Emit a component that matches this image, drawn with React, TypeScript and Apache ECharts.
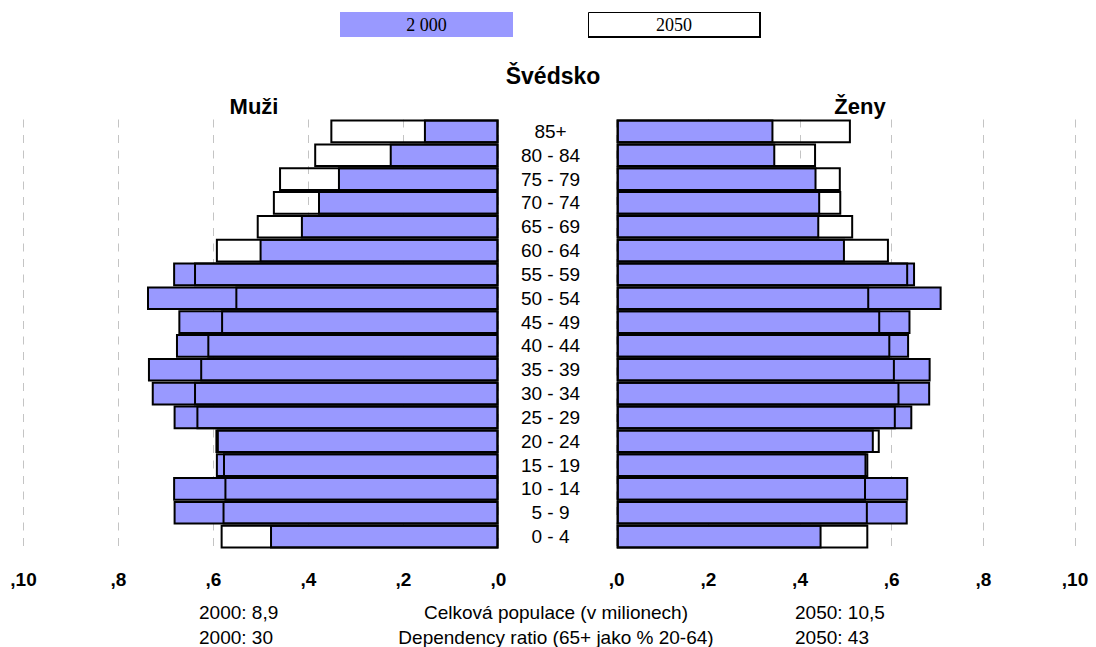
import React, { useEffect, useRef } from "react";
import * as echarts from "echarts";

// Age groups, youngest first (drawn bottom to top)
const ageGroups = [
  "0 - 4", "5 - 9", "10 - 14", "15 - 19", "20 - 24", "25 - 29", "30 - 34", "35 - 39", "40 - 44",
  "45 - 49", "50 - 54", "55 - 59", "60 - 64", "65 - 69", "70 - 74", "75 - 79", "80 - 84", "85+",
];

const men2000 = [4.81, 6.84, 6.85, 5.95, 5.96, 6.84, 7.30, 7.38, 6.79, 6.74, 7.40, 6.85, 5.03, 4.16, 3.80, 3.38, 2.29, 1.57];
const men2050 = [5.85, 5.81, 5.77, 5.80, 5.93, 6.36, 6.41, 6.28, 6.13, 5.84, 5.54, 6.41, 5.95, 5.09, 4.75, 4.62, 3.88, 3.54];
const women2000 = [4.47, 6.35, 6.36, 5.45, 5.61, 6.45, 6.84, 6.85, 6.38, 6.41, 7.09, 6.51, 4.98, 4.42, 4.44, 4.36, 3.46, 3.42];
const women2050 = [5.49, 5.48, 5.44, 5.49, 5.74, 6.09, 6.17, 6.07, 5.97, 5.75, 5.51, 6.36, 5.94, 5.16, 4.90, 4.89, 4.35, 5.11];

const seriesNames = ["2 000", "2050"];
const axisMax = 10;
const axisStep = 2;

const title = "Švédsko";
const leftTitle = "Muži";
const rightTitle = "Ženy";

const statLabels = ["Celková populace (v milionech)", "Dependency ratio (65+ jako % 20-64)"];
const stats2000 = ["2000: 8,9", "2000: 30"];
const stats2050 = ["2050: 10,5", "2050: 43"];

const SANS = "'Liberation Sans', Arial, sans-serif";
const SERIF = "'Liberation Serif', 'Times New Roman', serif";
const BLUE = "#9999ff";

export default function App() {
  const ref = useRef<HTMLDivElement>(null);

  useEffect(() => {
    if (!ref.current) return;
    const chart = echarts.init(ref.current, null, { renderer: "svg" });

    const leftGrid = { left: 23.5, top: 119.5, width: 475, height: 429 };
    const rightGrid = { left: 616.7, top: 119.5, width: 458.3, height: 429 };

    const valueAxis = (gridIndex: number, inverse: boolean) => ({
      type: "value",
      gridIndex,
      min: 0,
      max: axisMax,
      interval: axisStep,
      inverse,
      axisLine: { show: false },
      axisTick: { show: false },
      axisLabel: {
        formatter: (v: number) => "," + v,
        fontFamily: SANS,
        fontWeight: "bold",
        fontSize: 19,
        color: "#000",
        margin: 21,
      },
      splitLine: {
        show: true,
        lineStyle: { color: "#c4c4c4", width: 1, type: [8, 7.5] },
      },
    });

    const catAxis = (gridIndex: number, showLabels: boolean) => ({
      type: "category",
      gridIndex,
      data: ageGroups,
      position: "right",
      axisLine: { show: false },
      axisTick: { show: false },
      axisLabel: {
        show: showLabels,
        interval: 0,
        align: "center",
        margin: 52,
        fontFamily: SANS,
        fontSize: 19,
        color: "#000",
      },
    });

    // 2050 bars are drawn as outlines over the filled 2000 bars
    const barStyle2000 = { color: BLUE, borderColor: "#000", borderWidth: 2 };
    const barStyle2050 = { color: "rgba(0,0,0,0)", borderColor: "#000", borderWidth: 2 };

    const bar = (name: string, data: number[], idx: number, style: any) => ({
      name,
      type: "bar",
      xAxisIndex: idx,
      yAxisIndex: idx,
      data,
      barGap: "-100%",
      barCategoryGap: "1%",
      itemStyle: style,
      emphasis: { disabled: true },
    });

    const graphic: any[] = [
      // legend boxes
      {
        type: "rect",
        shape: { x: 340, y: 12, width: 173, height: 25 },
        style: { fill: BLUE },
      },
      {
        type: "text",
        x: 426.5,
        y: 25,
        style: { text: seriesNames[0], font: `18px ${SERIF}`, fill: "#000", align: "center", verticalAlign: "middle" },
      },
      {
        type: "rect",
        shape: { x: 588.5, y: 12.5, width: 171, height: 24 },
        style: { fill: "#fff", stroke: "#000", lineWidth: 1 },
      },
      {
        type: "line",
        shape: { x1: 760, y1: 12, x2: 760, y2: 38 },
        style: { stroke: "#000", lineWidth: 2 },
      },
      {
        type: "line",
        shape: { x1: 588, y1: 37, x2: 761, y2: 37 },
        style: { stroke: "#000", lineWidth: 2 },
      },
      {
        type: "text",
        x: 674,
        y: 25,
        style: { text: seriesNames[1], font: `18px ${SERIF}`, fill: "#000", align: "center", verticalAlign: "middle" },
      },
      // titles
      {
        type: "text",
        x: 553,
        y: 76,
        style: { text: title, font: `bold 23px ${SANS}`, fill: "#000", align: "center", verticalAlign: "middle" },
      },
      {
        type: "text",
        x: 254,
        y: 106,
        style: { text: leftTitle, font: `bold 22px ${SANS}`, fill: "#000", align: "center", verticalAlign: "middle" },
      },
      {
        type: "text",
        x: 860,
        y: 106,
        style: { text: rightTitle, font: `bold 22px ${SANS}`, fill: "#000", align: "center", verticalAlign: "middle" },
      },
    ];

    statLabels.forEach((label, i) => {
      const y = 612 + i * 25;
      graphic.push(
        {
          type: "text",
          x: 199,
          y,
          style: { text: stats2000[i], font: `19px ${SANS}`, fill: "#000", align: "left", verticalAlign: "middle" },
        },
        {
          type: "text",
          x: 556,
          y,
          style: { text: label, font: `19px ${SANS}`, fill: "#000", align: "center", verticalAlign: "middle" },
        },
        {
          type: "text",
          x: 795,
          y,
          style: { text: stats2050[i], font: `19px ${SANS}`, fill: "#000", align: "left", verticalAlign: "middle" },
        }
      );
    });

    chart.setOption({
      animation: false,
      backgroundColor: "#fff",
      grid: [leftGrid, rightGrid],
      xAxis: [valueAxis(0, true), valueAxis(1, false)],
      yAxis: [catAxis(0, true), catAxis(1, false)],
      series: [
        bar(seriesNames[0], men2000, 0, barStyle2000),
        bar(seriesNames[1], men2050, 0, barStyle2050),
        bar(seriesNames[0], women2000, 1, barStyle2000),
        bar(seriesNames[1], women2050, 1, barStyle2050),
      ],
      graphic,
    });

    return () => chart.dispose();
  }, []);

  return (
    <div
      ref={ref}
      style={{ position: "fixed", left: 0, top: 0, width: 1096, height: 647, background: "#fff" }}
    />
  );
}
